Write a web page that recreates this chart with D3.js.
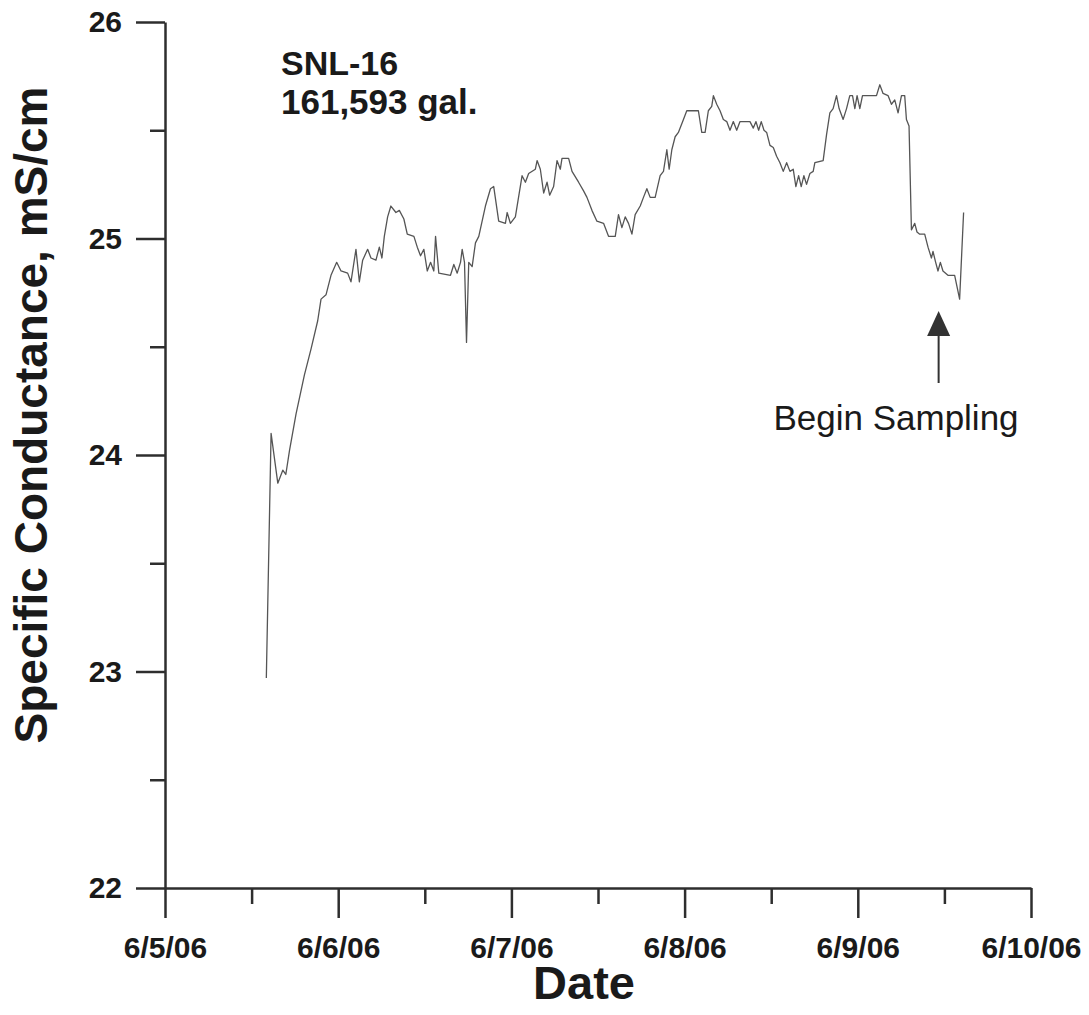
<!DOCTYPE html>
<html>
<head>
<meta charset="utf-8">
<script src="https://cdn.jsdelivr.net/npm/d3@7"></script>
<style>
  html, body { margin: 0; padding: 0; background: #fff; }
  svg { display: block; font-family: "Liberation Sans", Arial, sans-serif; }
</style>
</head>
<body>
<svg id="chart" width="1089" height="1015"></svg>
<script>
// Specific conductance log, SNL-16, hours elapsed since 6/5/06 00:00
const hours = [
  14.04, 14.70, 15.63, 16.32, 16.74, 17.25, 18.16, 19.32, 20.24, 21.16,
  21.62, 22.31, 23.00, 23.79, 24.39, 25.31, 25.77, 26.46, 26.93, 27.39,
  28.08, 28.54, 29.23, 29.70, 30.06, 30.39, 30.85, 31.30, 32.00, 32.47,
  33.10, 33.57, 34.49, 34.96, 35.41, 35.87, 36.34, 36.80, 37.25, 37.49,
  37.94, 39.56, 40.02, 40.49, 40.95, 41.18, 41.50, 41.78, 42.09, 42.56,
  43.02, 43.48, 44.40, 45.10, 45.55, 46.24, 47.17, 47.41, 47.86, 48.55,
  49.48, 49.94, 50.39, 51.32, 51.56, 52.01, 52.47, 52.94, 53.30, 53.85,
  54.32, 54.78, 55.01, 55.93, 56.40, 57.31, 58.00, 58.47, 59.16, 59.85,
  60.77, 61.46, 62.39, 62.84, 63.31, 63.77, 64.23, 64.70, 65.15, 65.85,
  66.30, 66.77, 67.23, 67.92, 68.61, 69.07, 69.54, 69.86, 70.23, 70.69,
  71.14, 71.84, 72.30, 73.22, 73.91, 74.38, 74.84, 75.29, 75.76, 75.99,
  76.45, 76.91, 77.37, 77.84, 78.29, 78.75, 79.22, 79.68, 81.06, 81.52,
  81.89, 82.26, 82.62, 83.00, 83.37, 83.83, 84.29, 84.75, 85.21, 85.67,
  86.14, 86.60, 87.05, 87.42, 87.80, 88.16, 88.53, 88.90, 89.36, 89.82,
  90.05, 91.20, 91.67, 92.13, 92.58, 93.05, 93.41, 93.97, 94.44, 94.89,
  95.27, 95.59, 95.90, 96.28, 96.65, 98.59, 99.05, 99.50, 100.19, 100.66,
  101.12, 101.58, 102.05, 102.50, 102.74, 103.10, 103.43, 103.89, 104.20, 104.58,
  105.27, 105.73, 106.20, 106.42, 106.79, 107.11, 107.44, 107.80, 108.49, 109.42,
  110.11, 110.66
];
const conductance = [
  22.97, 24.10, 23.87, 23.93, 23.91, 24.02, 24.19, 24.37, 24.49, 24.62,
  24.72, 24.74, 24.83, 24.89, 24.85, 24.84, 24.80, 24.95, 24.80, 24.90,
  24.95, 24.91, 24.90, 24.96, 24.91, 25.01, 25.10, 25.15, 25.12, 25.13,
  25.09, 25.02, 25.01, 24.96, 24.92, 24.95, 24.85, 24.89, 24.85, 25.01,
  24.84, 24.83, 24.88, 24.84, 24.89, 24.95, 24.89, 24.52, 24.89, 24.87,
  24.98, 25.01, 25.15, 25.23, 25.24, 25.08, 25.07, 25.12, 25.07, 25.10,
  25.29, 25.26, 25.30, 25.32, 25.36, 25.32, 25.21, 25.26, 25.20, 25.24,
  25.36, 25.32, 25.37, 25.37, 25.31, 25.26, 25.22, 25.19, 25.13, 25.08,
  25.07, 25.01, 25.01, 25.11, 25.05, 25.10, 25.07, 25.02, 25.11, 25.15,
  25.19, 25.23, 25.19, 25.19, 25.29, 25.31, 25.41, 25.32, 25.41, 25.47,
  25.49, 25.55, 25.59, 25.59, 25.59, 25.49, 25.49, 25.59, 25.61, 25.66,
  25.62, 25.59, 25.55, 25.54, 25.50, 25.54, 25.50, 25.54, 25.54, 25.51,
  25.54, 25.50, 25.54, 25.50, 25.49, 25.43, 25.42, 25.38, 25.35, 25.31,
  25.35, 25.31, 25.32, 25.24, 25.29, 25.24, 25.29, 25.25, 25.30, 25.31,
  25.35, 25.36, 25.48, 25.58, 25.60, 25.66, 25.60, 25.55, 25.60, 25.66,
  25.66, 25.60, 25.66, 25.60, 25.66, 25.66, 25.71, 25.67, 25.66, 25.62,
  25.64, 25.58, 25.66, 25.66, 25.55, 25.52, 25.04, 25.07, 25.03, 25.02,
  25.02, 24.96, 24.91, 24.94, 24.89, 24.85, 24.89, 24.85, 24.83, 24.83,
  24.72, 25.12
];

const yMajorTicks = [22, 23, 24, 25, 26];
const yMinorTicks = [22.5, 23.5, 24.5, 25.5];
const xMajorDays = [5, 6, 7, 8, 9, 10];
const xMinorDays = [5.5, 6.5, 7.5, 8.5, 9.5];
const xTickLabels = ["6/5/06", "6/6/06", "6/7/06", "6/8/06", "6/9/06", "6/10/06"];

const wellName = "SNL-16";
const volumeLabel = "161,593 gal.";
const yTitle = "Specific Conductance, mS/cm";
const xTitle = "Date";
const eventLabel = "Begin Sampling";
const eventHour = 107.2;

const toDate = h => new Date(Date.UTC(2006, 5, 5) + h * 3600e3);
const dayDate = d => new Date(Date.UTC(2006, 5, 5) + (d - 5) * 864e5);

const svg = d3.select("#chart");
const axisColor = "#2e2e2e";

const x = d3.scaleUtc()
  .domain([dayDate(5), dayDate(10)])
  .range([165, 1031]);
const y = d3.scaleLinear()
  .domain([22, 26])
  .range([888, 22]);

// minor ticks first so the major axis draws on top
svg.append("g")
  .attr("transform", "translate(165,0)")
  .call(d3.axisLeft(y).tickValues(yMinorTicks).tickSize(15).tickFormat(""))
  .call(g => g.select(".domain").remove());
svg.append("g")
  .attr("transform", "translate(0,888)")
  .call(d3.axisBottom(x).tickValues(xMinorDays.map(dayDate)).tickSize(16).tickFormat(""))
  .call(g => g.select(".domain").remove());

const yAxis = svg.append("g")
  .attr("transform", "translate(165,0)")
  .call(d3.axisLeft(y).tickValues(yMajorTicks).tickSize(29).tickSizeOuter(0)
    .tickPadding(14).tickFormat(d3.format("d")));
const xAxis = svg.append("g")
  .attr("transform", "translate(0,888)")
  .call(d3.axisBottom(x).tickValues(xMajorDays.map(dayDate)).tickSize(30).tickSizeOuter(0)
    .tickPadding(19).tickFormat((d, i) => xTickLabels[i]));

svg.selectAll(".tick line").attr("stroke", axisColor).attr("stroke-width", 2.5);
svg.selectAll(".domain").attr("stroke", axisColor).attr("stroke-width", 2.5);
[yAxis, xAxis].forEach(g => g.selectAll("text")
  .attr("font-family", "'Liberation Sans', Arial, sans-serif")
  .attr("font-size", 30)
  .attr("font-weight", "bold")
  .attr("fill", "#1a1a1a"));

// conductance trace
const line = d3.line()
  .x((d, i) => x(toDate(hours[i])))
  .y(d => y(d));
svg.append("path")
  .datum(conductance)
  .attr("d", line)
  .attr("fill", "none")
  .attr("stroke", "#555")
  .attr("stroke-width", 1.3)
  .attr("stroke-linejoin", "round");

// labels
const ink = "#1a1a1a";
svg.append("text").attr("x", 281).attr("y", 75)
  .attr("font-size", 34).attr("font-weight", "bold").attr("fill", ink).text(wellName);
svg.append("text").attr("x", 281).attr("y", 114)
  .attr("font-size", 35).attr("font-weight", "bold").attr("fill", ink).text(volumeLabel);

svg.append("text")
  .attr("transform", "translate(47,415) rotate(-90)")
  .attr("text-anchor", "middle")
  .attr("font-size", 46).attr("font-weight", "bold").attr("fill", ink)
  .text(yTitle);
svg.append("text")
  .attr("x", 584).attr("y", 999)
  .attr("text-anchor", "middle")
  .attr("font-size", 47).attr("font-weight", "bold").attr("fill", ink)
  .text(xTitle);

// sampling marker
const ax = x(toDate(eventHour));
svg.append("line")
  .attr("x1", ax).attr("x2", ax).attr("y1", 383).attr("y2", 334)
  .attr("stroke", "#333").attr("stroke-width", 2);
svg.append("path")
  .attr("d", `M${ax},311 L${ax - 11.5},336 L${ax + 11.5},336 Z`)
  .attr("fill", "#333");
svg.append("text")
  .attr("x", 896).attr("y", 430)
  .attr("text-anchor", "middle")
  .attr("font-size", 35).attr("fill", ink)
  .text(eventLabel);
</script>
</body>
</html>
